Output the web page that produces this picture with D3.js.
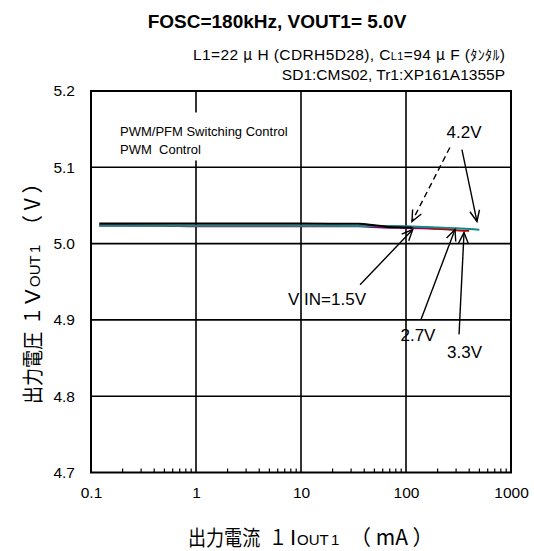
<!DOCTYPE html>
<html>
<head>
<meta charset="utf-8">
<script src="https://cdn.jsdelivr.net/npm/d3@7"></script>
<style>
  body { margin: 0; background: #fff; }
  svg { display: block; }
  text { font-family: "Liberation Sans", Arial, sans-serif; fill: #000; white-space: pre; }
  .cjk { font-family: "Noto Sans CJK JP", sans-serif; }
</style>
</head>
<body>
<svg id="chart" width="534" height="551"></svg>
<script>
// ---- axis ticks ----
const xTicks = [0.1, 1, 10, 100, 1000];
const xTickLabels = ["0.1", "1", "10", "100", "1000"];
const yTicks = [4.7, 4.8, 4.9, 5.0, 5.1, 5.2];
const yTickLabels = ["4.7", "4.8", "4.9", "5.0", "5.1", "5.2"];

// ---- measured output voltage [IOUT1 (mA), VOUT1 (V)] per input voltage ----
const vin15 = [[0.12, 5.0262], [1, 5.0262], [10, 5.0262], [35, 5.0261], [50, 5.0240], [65, 5.0222], [100, 5.0212], [115, 5.0208]];
const vin27 = [[0.12, 5.0240], [0.5, 5.0235], [1, 5.0228], [10, 5.0228], [35, 5.0226], [60, 5.0212], [100, 5.0205], [200, 5.0195], [290, 5.0190]];
const vin33 = [[0.12, 5.0238], [10, 5.0236], [40, 5.0232], [100, 5.0222], [200, 5.0195], [300, 5.0175], [400, 5.0168]];
const vin42 = [[0.12, 5.0233], [10, 5.0233], [50, 5.0232], [100, 5.0228], [200, 5.0212], [300, 5.0200], [400, 5.0192], [500, 5.0180]];

// ---- annotation arrows: [tail mA, tail V, tip mA, tip V, dashed] ----
const arrows = [
  [36.5, 4.946, 116, 5.0185, false],
  [139, 4.9005, 293, 5.0185, false],
  [320, 4.881, 357, 5.0146, false],
  [341, 5.1233, 474, 5.029, false],
  [262, 5.126, 114, 5.029, true]
];
// ---- annotation labels: [text, mA, V] (centre / baseline) ----
const vinLabels = [
  ["V IN=1.5V", 17.7, 4.919],
  ["2.7V", 130, 4.873],
  ["3.3V", 361, 4.8507],
  ["4.2V", 357, 5.139]
];
const modeLines = ["PWM/PFM Switching Control", "PWM  Control"];

const svg = d3.select("#chart");
const plot = { left: 91, right: 511, top: 91, bottom: 472.5 };

const x = d3.scaleLog().domain([0.1, 1000]).range([plot.left, plot.right]);
const y = d3.scaleLinear().domain([4.7, 5.2]).range([plot.bottom, plot.top]);

// ---- grid ----
const grid = svg.append("g");
grid.selectAll("line.vx").data(xTicks.slice(1, -1)).join("line")
  .attr("x1", d => x(d)).attr("x2", d => x(d))
  .attr("y1", plot.top).attr("y2", plot.bottom)
  .attr("stroke", "#000").attr("stroke-width", 1.6);
grid.selectAll("line.hy").data(yTicks.slice(1, -1)).join("line")
  .attr("x1", plot.left).attr("x2", plot.right)
  .attr("y1", d => y(d)).attr("y2", d => y(d))
  .attr("stroke", "#000").attr("stroke-width", 1.6);

// minor ticks along the bottom axis
const minor = [];
for (let dec = 0.1; dec < 1000; dec *= 10) {
  for (let k = 2; k <= 9; k++) minor.push(dec * k);
}
grid.selectAll("line.mn").data(minor).join("line")
  .attr("x1", d => x(d)).attr("x2", d => x(d))
  .attr("y1", plot.bottom).attr("y2", plot.bottom - 4)
  .attr("stroke", "#000").attr("stroke-width", 1.2);

// ---- control-mode note on a white panel (covers the grid) ----
const note = svg.append("g");
const noteBg = note.append("rect").attr("fill", "#fff");
note.selectAll("text").data(modeLines).join("text")
  .attr("x", x(0.189)).attr("y", (d, i) => y(5.1404) + i * 18)
  .attr("font-size", 13).text(d => d);
{
  const bb = note.node().getBBox();
  noteBg.attr("x", bb.x - 6).attr("y", bb.y - 12)
    .attr("width", bb.width + 12).attr("height", bb.height + 15);
}

// ---- frame ----
svg.append("rect")
  .attr("x", plot.left).attr("y", plot.top)
  .attr("width", plot.right - plot.left).attr("height", plot.bottom - plot.top)
  .attr("fill", "none").attr("stroke", "#000").attr("stroke-width", 2);

// ---- tick labels via axes ----
const xAxis = d3.axisBottom(x).tickValues(xTicks)
  .tickFormat((d, i) => xTickLabels[i]).tickSize(0).tickPadding(14);
const gx = svg.append("g").attr("transform", `translate(0,${plot.bottom})`).call(xAxis);
gx.select(".domain").remove();
gx.selectAll("text").attr("font-size", 15.5).attr("font-family", '"Liberation Sans", Arial, sans-serif').attr("fill", "#000");

const yAxis = d3.axisLeft(y).tickValues(yTicks)
  .tickFormat((d, i) => yTickLabels[i]).tickSize(0).tickPadding(16);
const gy = svg.append("g").attr("transform", `translate(${plot.left},0)`).call(yAxis);
gy.select(".domain").remove();
gy.selectAll("text").attr("font-size", 15.5).attr("font-family", '"Liberation Sans", Arial, sans-serif').attr("fill", "#000");

// ---- data lines ----
const line = d3.line().x(d => x(d[0])).y(d => y(d[1])).curve(d3.curveMonotoneX);
const series = [
  { data: vin27, color: "#800080" },
  { data: vin33, color: "#c00000" },
  { data: vin42, color: "#138a8a" },
  { data: vin15, color: "#000000" }
];
svg.append("g").selectAll("path").data(series).join("path")
  .attr("d", s => line(s.data))
  .attr("fill", "none").attr("stroke", s => s.color).attr("stroke-width", 2);

// ---- arrows ----
const ag = svg.append("g").attr("stroke", "#000").attr("fill", "none").attr("stroke-width", 1.4);
arrows.forEach(([tx, tv, hx, hv, dashed]) => {
  const x0 = x(tx), y0 = y(tv), x1 = x(hx), y1 = y(hv);
  ag.append("line").attr("x1", x0).attr("y1", y0).attr("x2", x1).attr("y2", y1)
    .attr("stroke-dasharray", dashed ? "6,4" : null);
  const ang = Math.atan2(y1 - y0, x1 - x0);
  const len = 12, spread = 0.42;
  const p = [
    [x1 - len * Math.cos(ang - spread), y1 - len * Math.sin(ang - spread)],
    [x1, y1],
    [x1 - len * Math.cos(ang + spread), y1 - len * Math.sin(ang + spread)]
  ];
  ag.append("path").attr("d", d3.line()(p));
});

// ---- annotation labels ----
svg.append("g").selectAll("text").data(vinLabels).join("text")
  .attr("x", d => x(d[1])).attr("y", d => y(d[2]))
  .attr("text-anchor", "middle").attr("font-size", 17)
  .text(d => d[0]);

// ---- titles ----
svg.append("text").attr("x", 277).attr("y", 28).attr("text-anchor", "middle")
  .attr("font-size", 19).attr("font-weight", "bold")
  .text("FOSC=180kHz, VOUT1= 5.0V");

const sub1 = svg.append("text").attr("x", 193).attr("y", 59.5).attr("font-size", 15.5)
  .attr("textLength", 312).attr("lengthAdjust", "spacing");
sub1.append("tspan").text("L1=22 ");
sub1.append("tspan").attr("class", "cjk").attr("font-size", 15).text("μ");
sub1.append("tspan").text(" H (CDRH5D28), C");
sub1.append("tspan").attr("font-size", 11).text("L1");
sub1.append("tspan").text("=94 ");
sub1.append("tspan").attr("class", "cjk").attr("font-size", 15).text("μ");
sub1.append("tspan").text(" F (");
sub1.append("tspan").attr("class", "cjk").attr("font-size", 14).text("ﾀﾝﾀﾙ");
sub1.append("tspan").text(")");

svg.append("text").attr("x", 505).attr("y", 79.5).attr("text-anchor", "end").attr("font-size", 15.5)
  .text("SD1:CMS02, Tr1:XP161A1355P");

// axis titles, set piece by piece: [text, start, size, cjk, horizontal squeeze]
const xTitle = [
  ["出力電流", 188, 21, true, 0.86],
  ["１", 269, 21, true, 0.86],
  ["I", 290, 22, false, 1],
  ["OUT", 297, 15, false, 1],
  ["1", 331, 15, false, 1],
  ["（ mA ）", 350, 21, true, 1]
];
const yTitle = [
  ["出力電圧", 404, 21, true, 0.86],
  ["１", 325, 21, true, 0.86],
  ["V", 304, 22, false, 1],
  ["OUT", 287, 15, false, 1],
  ["1", 253, 15, false, 1],
  ["（ V ）", 236, 21, true, 1]
];
svg.append("g").selectAll("text").data(xTitle).join("text")
  .attr("transform", d => `translate(${d[1]},544.5) scale(${d[4]},1)`)
  .attr("class", d => d[3] ? "cjk" : null)
  .attr("font-size", d => d[2]).text(d => d[0]);
svg.append("g").selectAll("text").data(yTitle).join("text")
  .attr("transform", d => `translate(40,${d[1]}) rotate(-90) scale(${d[4]},1)`)
  .attr("class", d => d[3] ? "cjk" : null)
  .attr("font-size", d => d[2]).text(d => d[0]);
</script>
</body>
</html>
